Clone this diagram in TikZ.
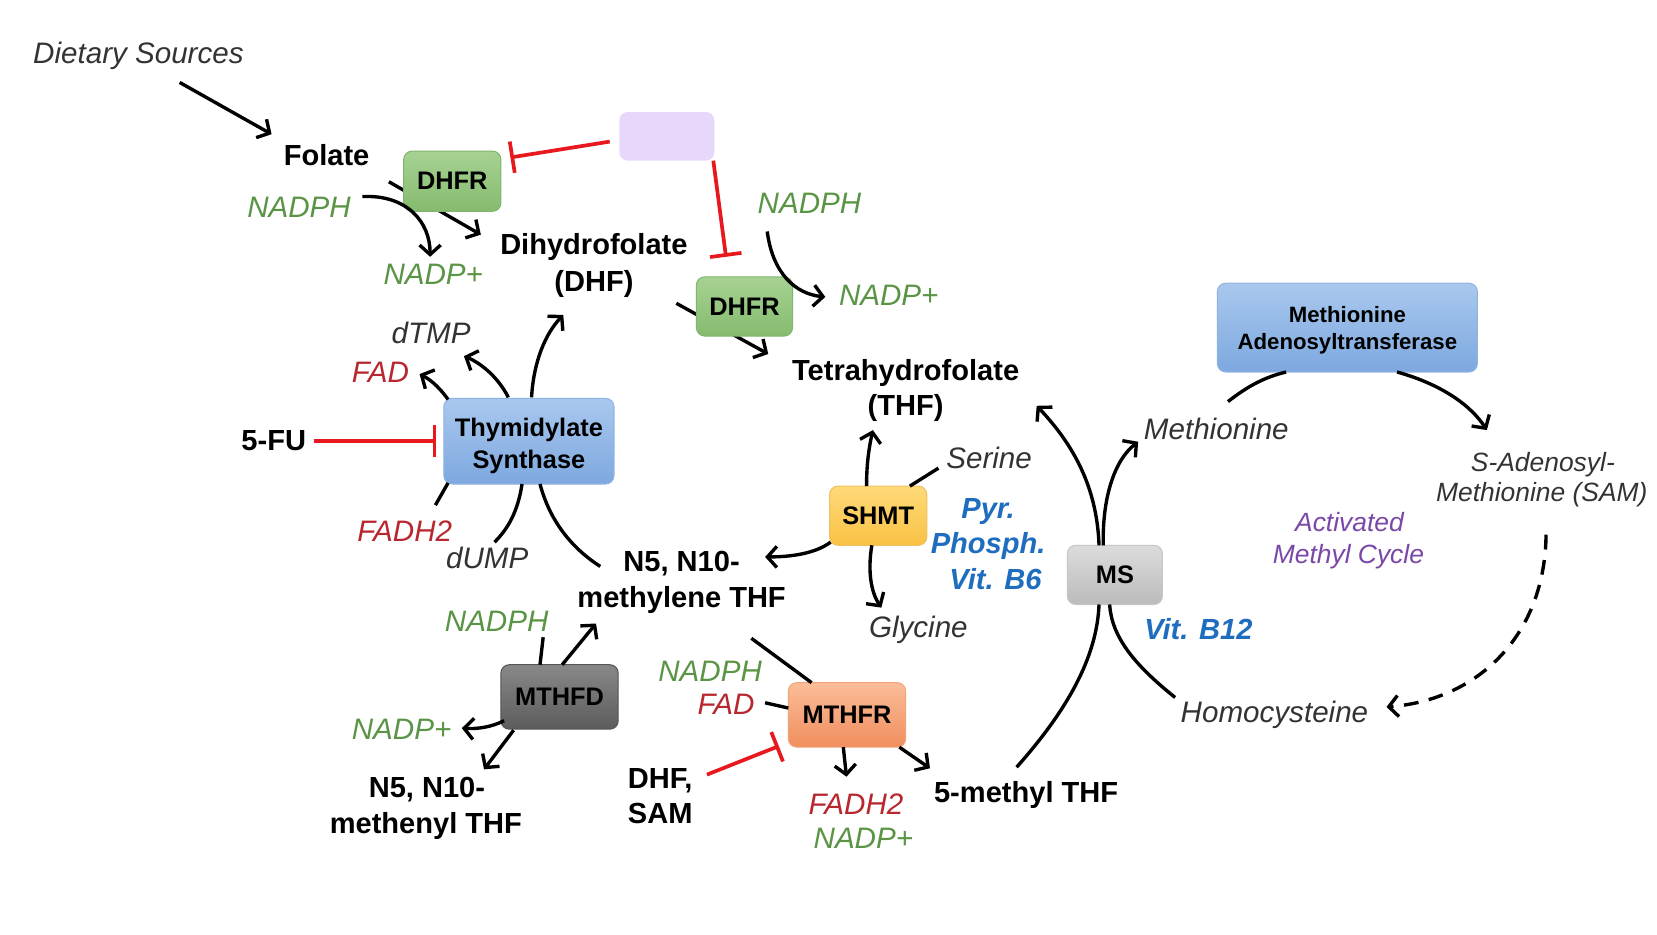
\documentclass[tikz,border=0pt]{standalone}
\usepackage{fontspec}
\setmainfont{Liberation Sans}
\usetikzlibrary{arrows.meta}
\definecolor{tgray}{HTML}{333333}
\definecolor{tgreen}{HTML}{5A9445}
\definecolor{tred}{HTML}{B8262E}
\definecolor{tinh}{HTML}{E8191E}
\definecolor{tblue}{HTML}{1F6DBE}
\definecolor{tpurple}{HTML}{7A48A8}
\pgfdeclarelayer{bg}
\pgfsetlayers{bg,main}
\begin{document}
\begin{tikzpicture}[x=1pt,y=-1pt,
  base/.style={inner sep=0pt, anchor=center},
  bl/.style={base, font=\fontsize{27.5}{33}\selectfont\bfseries, text height=19.7pt, text depth=0pt},
  it/.style={base, font=\fontsize{28}{33}\selectfont\itshape, text=tgray, text height=20pt, text depth=0pt},
  itsm/.style={font=\fontsize{25}{30}\selectfont\itshape, text height=18pt},
  itg/.style={it, text=tgreen},
  itr/.style={it, text=tred},
  itp/.style={it, itsm, text=tpurple},
  bi/.style={base, font=\fontsize{27.5}{33}\selectfont\bfseries\itshape, text=tblue, text height=19.7pt, text depth=0pt},
  enz/.style={rounded corners=8pt, inner sep=0pt, font=\fontsize{24}{30}\selectfont\bfseries, align=center, line width=1pt},
  arr/.style={line width=3.2pt, -{Straight Barb[length=9pt,width=20pt]}},
  ln/.style={line width=3.2pt},
  inh/.style={line width=3.5pt, draw=tinh, -{Bar[width=30pt]}},
]
\definecolor{gA}{HTML}{A6D292}\definecolor{gB}{HTML}{86BB6F}\definecolor{gC}{HTML}{82B56D}
\definecolor{bA}{HTML}{A9C8EE}\definecolor{bB}{HTML}{7DA8DF}\definecolor{bC}{HTML}{8FB3E1}
\definecolor{yA}{HTML}{FFDA7A}\definecolor{yB}{HTML}{F9C244}\definecolor{yC}{HTML}{F0C060}
\definecolor{sA}{HTML}{DCDCDC}\definecolor{sB}{HTML}{BBBBBB}\definecolor{sC}{HTML}{C6C6C6}
\definecolor{dA}{HTML}{888888}\definecolor{dB}{HTML}{5C5C5C}\definecolor{dC}{HTML}{555555}
\definecolor{oA}{HTML}{FBBD98}\definecolor{oB}{HTML}{F08E5E}\definecolor{oC}{HTML}{F1A47A}
\definecolor{pA}{HTML}{E7D8FB}
\useasboundingbox (0,0) rectangle (1568,884);
\begin{pgfonlayer}{bg}
\fill[white] (0,0) rectangle (1568,884);
\end{pgfonlayer}

% enzyme boxes
\node[enz, top color=gA, bottom color=gB, draw=gC, minimum width=92pt, minimum height=57pt] (dhfrA) at (428,171.5) {DHFR};
\node[enz, fill=pA, minimum width=90pt, minimum height=46pt] (purp) at (631,129) {};
\node[enz, top color=gA, bottom color=gB, draw=gC, minimum width=91pt, minimum height=56pt] (dhfrB) at (704.5,290) {DHFR};
\node[enz, top color=bA, bottom color=bB, draw=bC, minimum width=161pt, minimum height=81pt] (ts) at (500.5,417.5) {\rule{0pt}{26pt}Thymidylate\\Synthase};
\node[enz, top color=bA, bottom color=bB, draw=bC, minimum width=246pt, minimum height=84pt, font=\fontsize{21}{26}\selectfont\bfseries] (mat) at (1275,310) {\rule{0pt}{20pt}Methionine\\Adenosyltransferase};
\node[enz, top color=yA, bottom color=yB, draw=yC, minimum width=92pt, minimum height=56pt] (shmt) at (831,488) {SHMT};
\node[enz, top color=sA, bottom color=sB, draw=sC, minimum width=90pt, minimum height=56pt] (ms) at (1055,544) {MS};
\node[enz, top color=dA, bottom color=dB, draw=dC, minimum width=111pt, minimum height=61pt] (mthfd) at (529.5,659.5) {MTHFD};
\node[enz, top color=oA, bottom color=oB, draw=oC, minimum width=111pt, minimum height=61pt] (mthfr) at (801.5,676.5) {MTHFR};

% texts
\node[it] (diet) at (131,50) {Dietary Sources};
\node[bl] (fol) at (309,147) {Folate};
\node[itg] (nadph1) at (283,196) {NADPH};
\node[itg] (nadp1) at (410,259) {NADP+};
\node[bl] (dhf1) at (562,231) {Dihydrofolate};
\node[bl] (dhf2) at (562,266) {(DHF)};
\node[itg] (nadph2) at (766,192) {NADPH};
\node[itg] (nadp2) at (841,279) {NADP+};
\node[bl] (thf1) at (857,350) {Tetrahydrofolate};
\node[bl] (thf2) at (857,383) {(THF)};
\node[it] (dtmp) at (408,315) {dTMP};
\node[itr] (fad1) at (360,352) {FAD};
\node[bl] (fu) at (259,416) {5-FU};
\node[itr] (fadhA) at (383,502) {FADH2};
\node[it] (dump) at (461,528) {dUMP};
\node[bl] (mly1) at (645,531) {N5, N10-};
\node[bl] (mly2) at (645,565) {methylene THF};
\node[it] (ser) at (936,433) {Serine};
\node[bi] (b6a) at (935,481) {Pyr.};
\node[bi] (b6b) at (935,514) {Phosph.};
\node[bi] (b6c) at (942,548) {Vit. B6};
\node[it] (gly) at (869,593) {Glycine};
\node[it] (met) at (1151,406) {Methionine};
\node[it, itsm] (sam1) at (1460,437) {S-Adenosyl-};
\node[it, itsm] (sam2) at (1459,466) {Methionine (SAM)};
\node[itp] (amc1) at (1277,494) {Activated};
\node[itp] (amc2) at (1276,524) {Methyl Cycle};
\node[bi] (b12) at (1134,595) {Vit. B12};
\node[it] (hcy) at (1206,674) {Homocysteine};
\node[itg] (nadph3) at (470,588) {NADPH};
\node[itg] (nadp3) at (380,690) {NADP+};
\node[bl] (mny1) at (404,745) {N5, N10-};
\node[bl] (mny2) at (403,779) {methenyl THF};
\node[itg] (nadph4) at (672,635) {NADPH};
\node[itr] (fad2) at (687,666) {FAD};
\node[bl, anchor=west] (dsam1) at (594,736) {DHF,};
\node[bl, anchor=west] (dsam2) at (594,769) {SAM};
\node[itr] (fadhB) at (810,761) {FADH2};
\node[itg] (nadp4) at (817,793) {NADP+};
\node[bl] (mthf) at (971,750) {5-methyl THF};

% connector end points
\coordinate (e1) at (170,78);  \coordinate (e2) at (257,127);
\coordinate (e3) at (368,172); \coordinate (e4) at (455,222);
\coordinate (e5) at (343,186); \coordinate (e6) at (407,243);
\coordinate (e7) at (577,134); \coordinate (e8) at (483,149);
\coordinate (e9) at (675,152); \coordinate (e10) at (687,243);
\coordinate (e11) at (640,287); \coordinate (e12) at (727,335);
\coordinate (e13) at (726,219); \coordinate (e14) at (781,281);
\coordinate (e15) at (481,376); \coordinate (e16) at (439,337);
\coordinate (e17) at (424,378); \coordinate (e18) at (397,354);
\coordinate (e19) at (503,376); \coordinate (e20) at (533,298);
\coordinate (e21) at (424,457); \coordinate (e22) at (412,478);
\coordinate (e23) at (494,458); \coordinate (e24) at (468,513);
\coordinate (e25) at (511,458); \coordinate (e26) at (568,536);
\coordinate (e27) at (820,460); \coordinate (e28) at (826,407);
\coordinate (e29) at (861,460); \coordinate (e30) at (888,443);
\coordinate (e31) at (786,513); \coordinate (e32) at (724,527);
\coordinate (e33) at (825,516); \coordinate (e34) at (834,575);
\coordinate (e35) at (711,604); \coordinate (e36) at (768,646);
\coordinate (e37) at (724,665); \coordinate (e38) at (746,670);
\coordinate (e39) at (798,707); \coordinate (e40) at (801,735);
\coordinate (e41) at (851,707); \coordinate (e42) at (880,727);
\coordinate (e43) at (669,733); \coordinate (e44) at (737,706);
\coordinate (e45) at (514,603); \coordinate (e46) at (511,629);
\coordinate (e47) at (532,629); \coordinate (e48) at (564,590);
\coordinate (e49) at (477,682); \coordinate (e50) at (437,689);
\coordinate (e51) at (486,691); \coordinate (e52) at (458,728);
\coordinate (e53) at (962,726); \coordinate (e54) at (1040,572);
\coordinate (e55) at (1040,516); \coordinate (e56) at (981,384);
\coordinate (e57) at (1112,660); \coordinate (e58) at (1050,572);
\coordinate (e59) at (1044,516); \coordinate (e60) at (1077,418);
\coordinate (e61) at (1162,380); \coordinate (e62) at (1217,352);
\coordinate (e63) at (1322,352); \coordinate (e64) at (1407,407);
\coordinate (e65) at (1463,506); \coordinate (e66) at (1312,669);
\coordinate (e67) at (297,417); \coordinate (e68) at (413,417);

\begin{pgfonlayer}{bg}
\draw[arr] (e3) -- (e4);
\draw[arr] (e11) -- (e12);
\end{pgfonlayer}

\draw[arr] (e1) -- (e2);
\draw[arr] (e5) .. controls (385,184) and (407,210) .. (e6);
\draw[inh] (e7) -- (e8);
\draw[inh] (e9) -- (e10);
\draw[inh] (e67) -- (e68);
\draw[arr] (e13) .. controls (731,258) and (752,278) .. (e14);
\draw[arr] (e15) .. controls (472,358) and (456,344) .. (e16);
\draw[arr] (e17) .. controls (414,364) and (405,358) .. (e18);
\draw[arr] (e19) .. controls (505,342) and (516,316) .. (e20);
\draw[ln] (e21) -- (e22);
\draw[ln] (e23) .. controls (490,484) and (481,500) .. (e24);
\draw[ln] (e25) .. controls (520,492) and (540,518) .. (e26);
\draw[arr] (e27) .. controls (820,440) and (822,425) .. (e28);
\draw[ln] (e29) -- (e30);
\draw[arr] (e31) .. controls (774,522) and (754,527) .. (e32);
\draw[arr] (e33) .. controls (821,540) and (824,560) .. (e34);
\draw[ln] (e35) -- (e36);
\draw[ln] (e37) -- (e38);
\draw[arr] (e39) -- (e40);
\draw[arr] (e41) -- (e42);
\draw[inh] (e43) -- (e44);
\draw[ln] (e45) -- (e46);
\draw[arr] (e47) -- (e48);
\draw[arr] (e49) .. controls (465,688) and (452,690) .. (e50);
\draw[arr] (e51) -- (e52);
\draw[ln] (e53) .. controls (1010,672) and (1038,622) .. (e54);
\draw[arr] (e55) .. controls (1038,460) and (1015,420) .. (e56);
\draw[ln] (e57) .. controls (1072,628) and (1052,602) .. (e58);
\draw[arr] (e59) .. controls (1043,472) and (1054,436) .. (e60);
\draw[ln] (e61) .. controls (1180,366) and (1196,357) .. (e62);
\draw[arr] (e63) .. controls (1365,364) and (1392,384) .. (e64);
\draw[arr, dashed, dash pattern=on 14pt off 10pt] (e65) .. controls (1462,600) and (1400,662) .. (e66);
\end{tikzpicture}
\end{document}
